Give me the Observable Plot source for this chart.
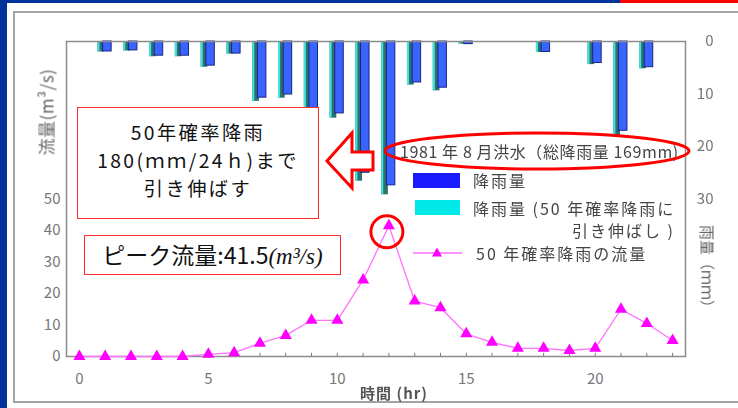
<!DOCTYPE html>
<html lang="ja">
<head>
<meta charset="utf-8">
<script src="https://cdn.jsdelivr.net/npm/d3@7"></script>
<script src="https://cdn.jsdelivr.net/npm/@observablehq/plot@0.6"></script>
<style>
  html, body { margin: 0; padding: 0; background: #fff; }
  #page { position: relative; width: 738px; height: 408px; overflow: hidden; background: #fff;
          font-family: "Noto Sans CJK JP", "Noto Sans", sans-serif; }
  .abs { position: absolute; }
  .layer { position: absolute; left: 0; top: 0; }
  .layer svg { display: block; }
  .legend { color: #444; font-size: 16px; letter-spacing: 2px; white-space: nowrap; line-height: 1; filter: blur(0.35px); }
  .note { position: absolute; background: #fff; border: 1.5px solid #ff2a2a; box-sizing: border-box;
          color: #111; text-align: center; white-space: nowrap; }
  .note .ln { position: absolute; left: 0; right: 0; transform: translateY(-50%); font-size: 19.3px; line-height: 1.3; letter-spacing: 2.4px; }
</style>
</head>
<body>
<div id="page">
  <div class="abs" style="left:0;top:0;width:7px;height:408px;background:#003399"></div>
  <div class="abs" style="left:0;top:0;width:620px;height:3px;background:#003399"></div>
  <div class="abs" style="left:620px;top:0;width:118px;height:3px;background:#ff0000"></div>
  <div class="abs" style="left:13px;top:11px;width:740px;height:392px;border:2px solid #a3a3a3;box-sizing:border-box"></div>

  <div id="bars" class="layer"></div>
  <div id="flow" class="layer"></div>

  <!-- axis titles -->
  <div class="abs legend" style="left:46px;top:112px;transform:translate(-50%,-50%) rotate(-90deg);font-size:17px;letter-spacing:0.5px;color:#666">流量(m³/s)</div>
  <div class="abs legend" style="left:708px;top:270px;transform:translate(-50%,-50%) rotate(90deg);font-size:15px;letter-spacing:0;color:#666">雨量（ｍｍ）</div>
  <div class="abs legend" style="left:394px;top:392px;transform:translate(-50%,-50%);font-size:15px;color:#555;font-weight:bold;letter-spacing:1px">時間 (hr)</div>

  <!-- legend -->
  <div class="abs legend" style="left:400px;top:143px;letter-spacing:0.6px">1981 年 8 月洪水（総降雨量 169mm)</div>
  <div class="abs" style="left:413px;top:173px;width:47px;height:15px;background:#1a1aff;filter:blur(0.4px)"></div>
  <div class="abs legend" style="left:473px;top:172px">降雨量</div>
  <div class="abs" style="left:415px;top:200px;width:45px;height:15px;background:#00e8e8;filter:blur(0.4px)"></div>
  <div class="abs legend" style="left:473px;top:200px">降雨量 (50 年確率降雨に</div>
  <div class="abs legend" style="left:572px;top:222px">引き伸ばし )</div>
  <svg class="abs" style="left:410px;top:244px" width="60" height="20">
    <line x1="3" y1="9" x2="52" y2="9" stroke="#ff70ff" stroke-width="1.5"/>
    <path d="M27,3.5 L32,12.5 L22,12.5 Z" fill="#ff00ff"/>
  </svg>
  <div class="abs legend" style="left:476px;top:245px">50 年確率降雨の流量</div>

  <!-- callouts -->
  <div class="note" style="left:77px;top:107px;width:242px;height:112px">
    <div class="ln" style="top:25px">50年確率降雨</div>
    <div class="ln" style="top:53px">180(ｍｍ/24ｈ)まで</div>
    <div class="ln" style="top:81px">引き伸ばす</div>
  </div>
  <div class="note" style="left:84px;top:235px;width:257px;height:40px;font-size:23px;line-height:37px">
    ピーク流量:41.5<span style="font-family:'Liberation Serif',serif;font-style:italic">(m³/s)</span>
  </div>
  <svg class="abs" style="left:0;top:0;pointer-events:none" width="738" height="408">
    <path d="M327,161 L352,133 L352,152 L373,152 L373,170 L352,170 L352,188 Z"
          fill="#fff" stroke="#ff0000" stroke-width="3" stroke-linejoin="miter"/>
    <ellipse cx="537" cy="151" rx="152" ry="18" fill="none" stroke="#ff0000" stroke-width="3"/>
  </svg>
</div>

<script>
// Hourly values, 1981 August flood
const hours = d3.range(0, 24);
// observed hourly rainfall (mm), total 169 mm
const rainObserved = [0, 1.9, 1.7, 2.7, 2.7, 4.6, 2.3, 10.7, 10.1, 21, 13.7, 25, 27.4, 7.8, 8.8, 0.5, 0, 0, 2, 0, 4.1, 17, 4.9, 0];
// rainfall stretched to the 50-year design rainfall (180 mm / 24 h)
const rainExtended = [0, 2.0, 1.8, 2.9, 2.9, 4.9, 2.4, 11.4, 10.8, 22.4, 14.6, 26.6, 29.2, 8.3, 9.4, 0.5, 0, 0, 2.1, 0, 4.4, 18.1, 5.2, 0];
// resulting discharge (m³/s)
const flow = [0, 0, 0, 0, 0, 0.7, 1.2, 4.2, 6.7, 11.5, 11.5, 24.3, 41.5, 17.6, 15.5, 7.2, 4.5, 2.6, 2.6, 1.9, 2.6, 15, 10.5, 5.1];
const xTicks = [0, 5, 10, 15, 20];
const flowTicks = [0, 10, 20, 30, 40, 50];
const rainTicks = [0, 10, 20, 30];

const rainRows = hours.map((h, i) => ({hour: h, observed: rainObserved[i], extended: rainExtended[i]}))
  .filter(d => d.extended > 0);
const flowRows = hours.map((h, i) => ({hour: h, flow: flow[i]}));
const peak = flowRows.reduce((a, b) => (b.flow > a.flow ? b : a));

const frame = {
  width: 738, height: 408,
  marginLeft: 66, marginRight: 53, marginTop: 41, marginBottom: 52
};
const axisStyle = {
  background: "transparent", overflow: "visible",
  fontFamily: "'Noto Sans CJK JP', sans-serif", fontSize: "15px", color: "#777"
};

// rainfall bars hang from the top, on the right-hand axis
const bars = Plot.plot({
  ...frame,
  style: axisStyle,
  x: {domain: [-0.5, 23.5], axis: null},
  y: {domain: [0, 60], reverse: true, axis: null},
  marks: [
    Plot.rect(rainRows, {x1: d => d.hour - 0.28, x2: d => d.hour - 0.02, y1: 0, y2: "extended", fill: "#2c716c"}),
    Plot.rect(rainRows, {x1: d => d.hour - 0.28, x2: d => d.hour - 0.2, y1: 0, y2: "extended", fill: "#3fe3df"}),
    Plot.rect(rainRows, {x1: d => d.hour - 0.08, x2: d => d.hour + 0.25, y1: 0, y2: "observed",
      fill: "#3a64ff", stroke: "#1b2585", strokeWidth: 1}),
    Plot.axisY(rainTicks, {anchor: "right", tickSize: 0, tickPadding: 28, textAnchor: "end", label: null})
  ]
});
bars.style.filter = "blur(0.3px)";
document.getElementById("bars").append(bars);

// discharge hydrograph on the left-hand axis
const flowPlot = Plot.plot({
  ...frame,
  style: axisStyle,
  x: {domain: [-0.5, 23.5]},
  y: {domain: [0, 100]},
  marks: [
    Plot.frame({stroke: "#8c8c8c", strokeWidth: 1.5}),
    Plot.ruleX(hours, {x: d => d, y1: 0, y2: 1, stroke: "#777"}),
    Plot.axisY(flowTicks, {anchor: "left", tickSize: 0, tickPadding: 6, label: null}),
    Plot.axisX(xTicks, {anchor: "bottom", tickSize: 0, tickPadding: 17, label: null}),
    Plot.line(flowRows, {x: "hour", y: "flow", stroke: "#ff70ff", strokeWidth: 1.3}),
    Plot.dot(flowRows, {x: "hour", y: "flow", symbol: "triangle", r: 4.5, fill: "#ff00ff"}),
    Plot.dot([peak], {x: "hour", y: "flow", r: 16, dx: -2, dy: 6, fill: "none", stroke: "#ff0000", strokeWidth: 3})
  ]
});
document.getElementById("flow").append(flowPlot);
</script>
</body>
</html>
